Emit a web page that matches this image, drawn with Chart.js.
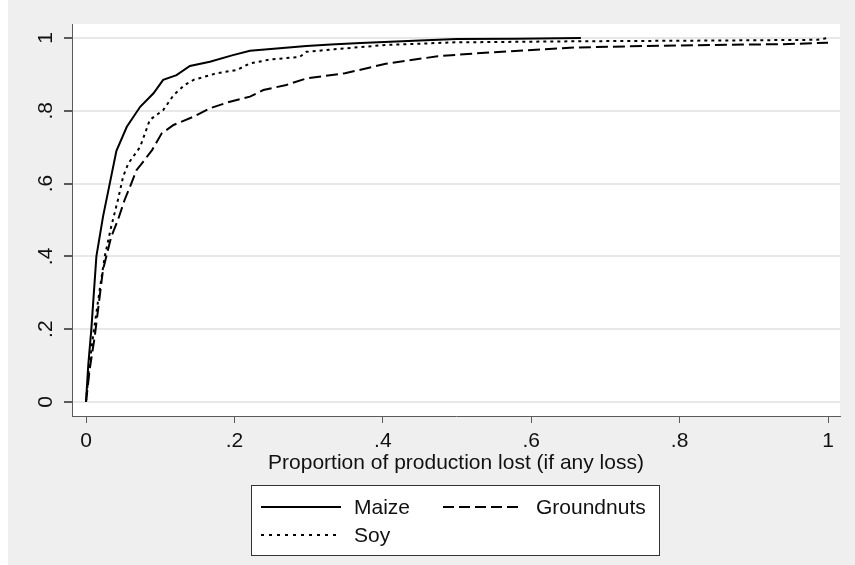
<!DOCTYPE html>
<html>
<head>
<meta charset="utf-8">
<script src="https://cdn.jsdelivr.net/npm/chart.js@4/dist/chart.umd.min.js"></script>
<style>
  html, body { margin: 0; padding: 0; background: #efefef; }
  #wrap { width: 855px; height: 565px; }
</style>
</head>
<body>
<div id="wrap"><canvas id="lossChart" width="855" height="565"></canvas></div>
<script>
// Cumulative share of households, by proportion of production lost
const maizeX = [0, 0.003, 0.0072, 0.014, 0.023, 0.032, 0.041, 0.055, 0.073, 0.091, 0.104, 0.122, 0.14, 0.167, 0.198, 0.221, 0.257, 0.297, 0.33, 0.37, 0.41, 0.45, 0.5, 0.58, 0.667];
const maizeY = [0, 0.1, 0.2, 0.4, 0.51, 0.6, 0.69, 0.756, 0.811, 0.848, 0.885, 0.898, 0.923, 0.935, 0.953, 0.965, 0.971, 0.978, 0.982, 0.986, 0.99, 0.993, 0.997, 0.998, 1.0];

const groundnutsX = [0, 0.005, 0.0117, 0.0229, 0.034, 0.043, 0.052, 0.061, 0.068, 0.077, 0.089, 0.102, 0.118, 0.145, 0.167, 0.194, 0.221, 0.239, 0.27, 0.297, 0.349, 0.404, 0.474, 0.52, 0.59, 0.66, 0.753, 0.846, 0.939, 1.0];
const groundnutsY = [0, 0.09, 0.179, 0.363, 0.454, 0.5, 0.555, 0.6, 0.637, 0.66, 0.692, 0.738, 0.761, 0.784, 0.807, 0.825, 0.839, 0.857, 0.871, 0.889, 0.903, 0.929, 0.95, 0.957, 0.966, 0.974, 0.978, 0.981, 0.983, 0.987];

const soyX = [0, 0.004, 0.0094, 0.0184, 0.0252, 0.034, 0.043, 0.05, 0.057, 0.073, 0.086, 0.104, 0.118, 0.133, 0.145, 0.176, 0.203, 0.221, 0.248, 0.288, 0.297, 0.335, 0.404, 0.497, 0.66, 0.846, 0.985, 1.0];
const soyY = [0, 0.09, 0.179, 0.308, 0.399, 0.482, 0.555, 0.619, 0.655, 0.701, 0.775, 0.802, 0.843, 0.871, 0.885, 0.903, 0.912, 0.93, 0.941, 0.948, 0.962, 0.969, 0.981, 0.988, 0.991, 0.993, 0.995, 1.0];

const tickValues = [0, 0.2, 0.4, 0.6, 0.8, 1];
const tickLabels = ['0', '.2', '.4', '.6', '.8', '1'];
const xTitle = 'Proportion of production lost (if any loss)';

const FONT = { family: '"Liberation Sans", Arial, sans-serif', size: 21 };
const AXIS = '#5a5a5a';

function toPoints(xs, ys) {
  return xs.map((x, i) => ({ x: x, y: ys[i] }));
}

// gray page, white plot region
const backdrop = {
  id: 'backdrop',
  beforeDraw(chart) {
    const { ctx, chartArea: a } = chart;
    ctx.save();
    ctx.fillStyle = '#efefef';
    ctx.fillRect(0, 0, chart.width, chart.height);
    ctx.fillStyle = '#ffffff';
    ctx.fillRect(0, 0, 8, chart.height);
    ctx.fillRect(a.left, a.top, a.right - a.left, a.bottom - a.top);
    ctx.restore();
  }
};

// boxed legend, two columns like Stata
const boxLegend = {
  id: 'boxLegend',
  afterDraw(chart) {
    const ctx = chart.ctx;
    const box = { x: 251.5, y: 485.5, w: 408, h: 70 };
    const cols = [261, 443];
    const rows = [507, 535];
    ctx.save();
    ctx.fillStyle = '#ffffff';
    ctx.fillRect(box.x, box.y, box.w, box.h);
    ctx.strokeStyle = '#333333';
    ctx.lineWidth = 1;
    ctx.strokeRect(box.x, box.y, box.w, box.h);
    chart.data.datasets.forEach((ds, i) => {
      const cx = cols[i % 2];
      const cy = rows[Math.floor(i / 2)];
      ctx.beginPath();
      ctx.setLineDash(ds.legendDash || []);
      ctx.lineWidth = 2;
      ctx.strokeStyle = ds.borderColor;
      ctx.moveTo(cx, cy);
      ctx.lineTo(cx + 80, cy);
      ctx.stroke();
      ctx.setLineDash([]);
      ctx.fillStyle = '#111111';
      ctx.font = FONT.size + 'px ' + FONT.family;
      ctx.textBaseline = 'middle';
      ctx.textAlign = 'left';
      ctx.fillText(ds.label, cx + 93, cy + 1);
    });
    ctx.restore();
  }
};

new Chart(document.getElementById('lossChart'), {
  type: 'line',
  data: {
    datasets: [
      { label: 'Maize', data: toPoints(maizeX, maizeY), borderColor: '#000000', borderWidth: 2, borderDash: [], legendDash: [] },
      { label: 'Groundnuts', data: toPoints(groundnutsX, groundnutsY), borderColor: '#000000', borderWidth: 2, borderDash: [12, 5], legendDash: [11, 5] },
      { label: 'Soy', data: toPoints(soyX, soyY), borderColor: '#000000', borderWidth: 2, borderDash: [3, 4], legendDash: [3, 5] }
    ]
  },
  options: {
    responsive: false,
    animation: false,
    devicePixelRatio: 1,
    layout: { padding: { left: 0, top: 24, right: 15, bottom: 89 } },
    elements: { point: { radius: 0 }, line: { tension: 0 } },
    plugins: { legend: { display: false }, tooltip: { enabled: false } },
    scales: {
      x: {
        type: 'linear',
        min: -0.01887,
        max: 1.01617,
        afterBuildTicks: s => { s.ticks = tickValues.map(v => ({ value: v })); },
        afterFit: s => { s.height = 60; },
        ticks: { color: '#111111', font: FONT, padding: 6, maxRotation: 0, callback: (v, i) => tickLabels[i] },
        grid: { color: 'rgba(0,0,0,0)', tickColor: AXIS, tickLength: 7, drawOnChartArea: false },
        border: { display: true, color: AXIS, width: 1 },
        title: { display: true, text: xTitle, color: '#111111', font: FONT, padding: 0 }
      },
      y: {
        type: 'linear',
        min: -0.03846,
        max: 1.03846,
        afterBuildTicks: s => { s.ticks = tickValues.map(v => ({ value: v })); },
        afterFit: s => { s.width = 72; },
        ticks: { color: '#111111', font: FONT, padding: 9, minRotation: 90, maxRotation: 90, crossAlign: 'center', callback: (v, i) => tickLabels[i] },
        grid: { color: '#e8e8e8', lineWidth: 2, tickColor: AXIS, tickLength: 8 },
        border: { display: true, color: AXIS, width: 1 }
      }
    }
  },
  plugins: [backdrop, boxLegend]
});
</script>
</body>
</html>
